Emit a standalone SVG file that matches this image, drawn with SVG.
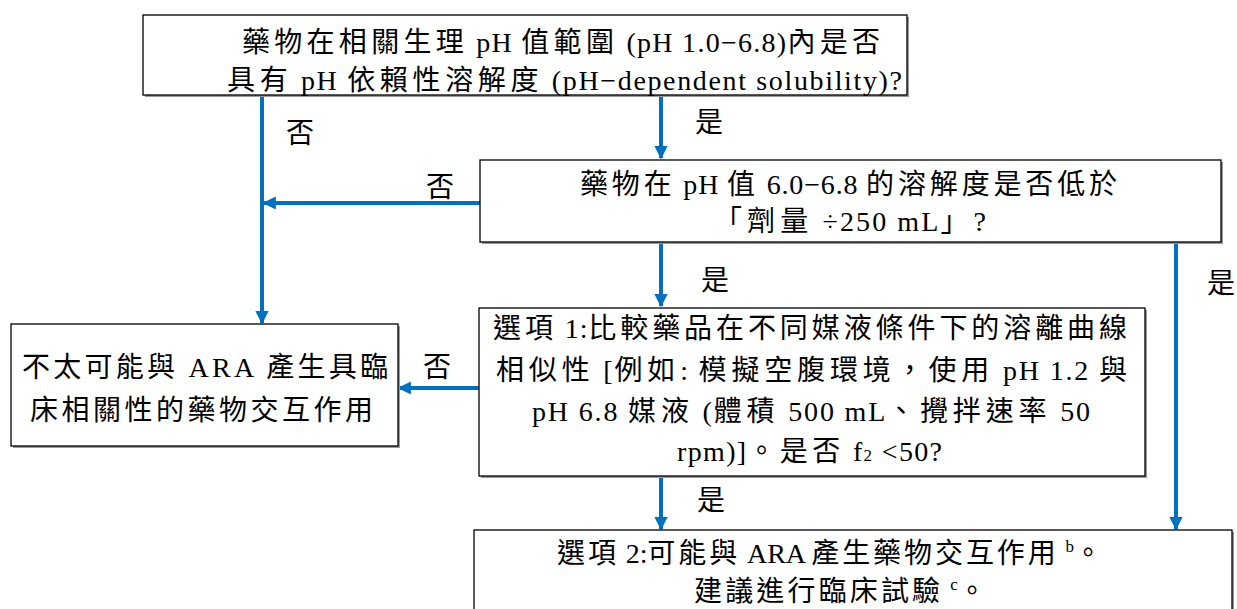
<svg xmlns="http://www.w3.org/2000/svg" width="1237" height="609" viewBox="0 0 1237 609">
<style>
.box{fill:#fff;stroke:#000;stroke-width:1.3}
.sh{fill:#9a9a9a}
.t{font-family:"Liberation Serif","Noto Sans CJK TC",serif;font-size:28px;fill:#000}
.k{letter-spacing:3px}
.c{fill:none;stroke:#0070C0;stroke-width:4}
</style>
<defs>
<marker id="ah" viewBox="0 0 10 10" refX="9" refY="5" markerWidth="3.3" markerHeight="3.7" orient="auto" markerUnits="strokeWidth">
<path d="M0,0 L10,5 L0,10 z" fill="#0070C0"/>
</marker>
</defs>
<g id="connectors">
<line class="c" x1="262" y1="96" x2="262" y2="323" marker-end="url(#ah)"/>
<line class="c" x1="661" y1="96" x2="661" y2="158" marker-end="url(#ah)"/>
<line class="c" x1="480" y1="203" x2="264" y2="203" marker-end="url(#ah)"/>
<line class="c" x1="661" y1="243" x2="661" y2="306" marker-end="url(#ah)"/>
<line class="c" x1="1176" y1="243" x2="1176" y2="529" marker-end="url(#ah)"/>
<line class="c" x1="479" y1="388" x2="399" y2="388" marker-end="url(#ah)"/>
<line class="c" x1="661" y1="477" x2="661" y2="529" marker-end="url(#ah)"/>
<text class="t" x="286" y="143">否</text>
<text class="t" x="695" y="132">是</text>
<text class="t" x="426" y="197">否</text>
<text class="t" x="701" y="290">是</text>
<text class="t" x="1207" y="293">是</text>
<text class="t" x="423" y="377">否</text>
<text class="t" x="697" y="510">是</text>
</g>
<g id="n1">
<rect class="sh" x="145" y="17" width="764" height="80"/>
<rect class="box" x="143" y="15" width="764" height="80"/>
<text class="t" x="242" y="52" textLength="641" lengthAdjust="spacing"><tspan class="k">藥物在相關生理</tspan> pH <tspan class="k">值範圍</tspan> (pH 1.0−6.8)<tspan class="k">內是否</tspan></text>
<text class="t" x="227" y="90" textLength="675" lengthAdjust="spacing"><tspan class="k">具有</tspan> pH <tspan class="k">依賴性溶解度</tspan> (pH−dependent solubility)?</text>
</g>
<g id="n2">
<rect class="sh" x="482" y="162" width="741" height="82"/>
<rect class="box" x="480" y="160" width="741" height="82"/>
<text class="t" x="580" y="194" textLength="540" lengthAdjust="spacing"><tspan class="k">藥物在</tspan> pH <tspan class="k">值</tspan> 6.0−6.8 <tspan class="k">的溶解度是否低於</tspan></text>
<text class="t" x="714" y="231" textLength="272" lengthAdjust="spacing"><tspan class="k">「劑量</tspan> ÷250 mL<tspan class="k">」</tspan>?</text>
</g>
<g id="n3">
<rect class="sh" x="481" y="310" width="666" height="168"/>
<rect class="box" x="479" y="308" width="666" height="168"/>
<text class="t" x="493" y="338" textLength="637" lengthAdjust="spacing"><tspan class="k">選項</tspan> 1:<tspan class="k">比較藥品在不同媒液條件下的溶離曲線</tspan></text>
<text class="t" x="496" y="380" textLength="634" lengthAdjust="spacing"><tspan class="k">相似性</tspan> [<tspan class="k">例如</tspan>: <tspan class="k">模擬空腹環境，使用</tspan> pH 1.2 <tspan class="k">與</tspan></text>
<text class="t" x="532" y="421" textLength="558" lengthAdjust="spacing">pH 6.8 <tspan class="k">媒液</tspan> (<tspan class="k">體積</tspan> 500 mL<tspan class="k">、攪拌速率</tspan> 50</text>
<text class="t" x="677" y="461" textLength="265" lengthAdjust="spacing">rpm)]<tspan class="k">。是否</tspan> f<tspan font-size="17">2</tspan> &lt;50?</text>
</g>
<g id="n4">
<rect class="sh" x="13" y="326" width="387" height="122"/>
<rect class="box" x="11" y="324" width="387" height="122"/>
<text class="t" x="22" y="377" textLength="366" lengthAdjust="spacing">不太可能與 ARA 產生具臨</text>
<text class="t" x="30" y="420" textLength="343" lengthAdjust="spacing">床相關性的藥物交互作用</text>
</g>
<g id="n5">
<rect class="sh" x="476" y="532" width="758" height="90"/>
<rect class="box" x="474" y="530" width="758" height="90"/>
<text class="t" x="557" y="563" textLength="545" lengthAdjust="spacing"><tspan class="k">選項</tspan> 2:<tspan class="k">可能與</tspan> ARA <tspan class="k">產生藥物交互作用</tspan> <tspan font-size="17" dy="-11">b</tspan><tspan dy="11">。</tspan></text>
<text class="t" x="694" y="601" textLength="292" lengthAdjust="spacing"><tspan class="k">建議進行臨床試驗</tspan> <tspan font-size="17" dy="-11">c</tspan><tspan dy="11">。</tspan></text>
</g>
</svg>
